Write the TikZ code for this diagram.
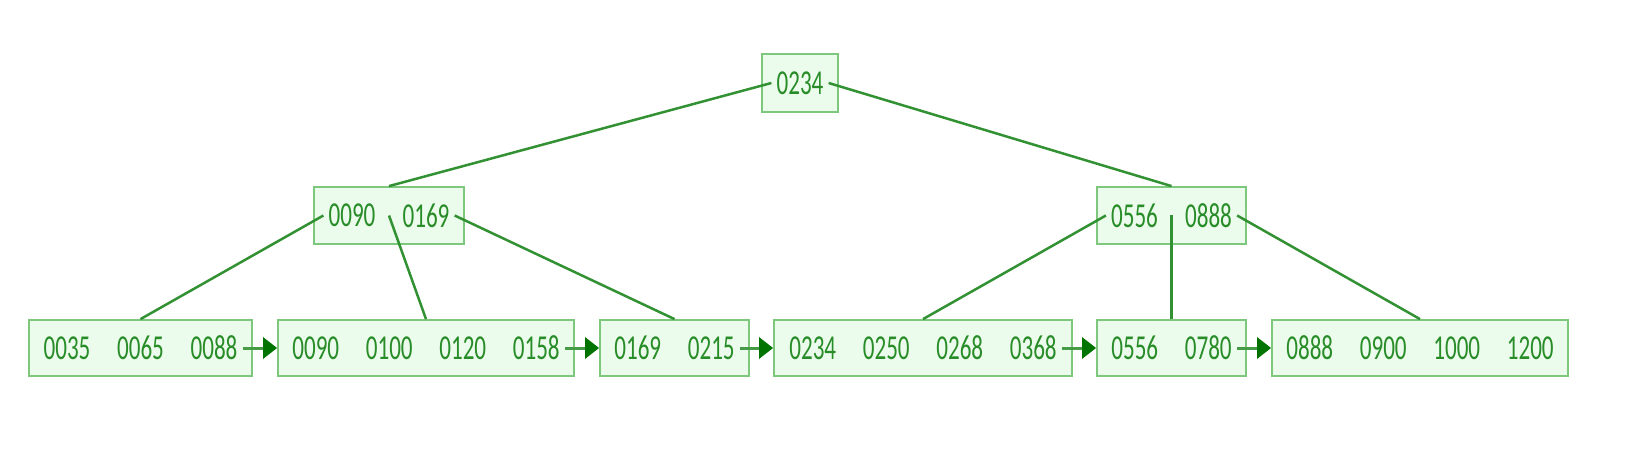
\documentclass[tikz,border=0pt]{standalone}
\usepackage{fontspec}
\usetikzlibrary{arrows.meta}
\newfontfamily\keyfont[FakeStretch=0.66]{Carlito}
\definecolor{boxfill}{RGB}{236,252,236}
\definecolor{boxdraw}{RGB}{125,200,125}
\definecolor{keytext}{RGB}{40,140,40}
\definecolor{edgecol}{RGB}{50,145,50}
\definecolor{chaincol}{RGB}{70,155,70}
\definecolor{tipcol}{RGB}{0,115,0}
\tikzset{
  box/.style={draw=boxdraw, fill=boxfill, line width=1.8pt, rectangle, inner sep=0pt},
  key/.style={text=keytext, font=\keyfont\fontsize{35}{35}\selectfont, inner xsep=5pt, inner ysep=0pt},
  edge/.style={draw=edgecol, line width=2.5pt},
  chain/.style={draw=chaincol, line width=3pt, -{Triangle[length=14pt,width=21pt,color=tipcol]}}
}
\begin{document}
\begin{tikzpicture}[x=1pt,y=-1pt]
\useasboundingbox (0,0) rectangle (1643,457);
% root
\node[box, minimum width=76pt, minimum height=58pt] (root) at (800,83) {};
\node[key] (r1) at (root.center) {0234};
% level 2
\node[box, minimum width=150pt, minimum height=57pt] (ia) at (389,215.5) {};
\node[key] (ia1) at (352,215.5) {0090};
\node[key] (ia2) at (426,215.5) {0169};
\node[box, minimum width=149pt, minimum height=57pt] (ib) at (1171.5,215.5) {};
\node[key] (ib1) at (1134.5,215.5) {0556};
\node[key] (ib2) at (1208.5,215.5) {0888};
% leaves
\node[box, minimum width=223pt, minimum height=56pt] (lf1) at (140.5,348) {};
\node[key] (lf1a) at (67,348) {0035};
\node[key] (lf1b) at (140.5,348) {0065};
\node[key] (lf1c) at (214,348) {0088};
\node[box, minimum width=296pt, minimum height=56pt] (lf2) at (426,348) {};
\node[key] (lf2a) at (315.75,348) {0090};
\node[key] (lf2b) at (389.25,348) {0100};
\node[key] (lf2c) at (462.75,348) {0120};
\node[key] (lf2d) at (536.25,348) {0158};
\node[box, minimum width=149pt, minimum height=56pt] (lf3) at (674.5,348) {};
\node[key] (lf3a) at (637.75,348) {0169};
\node[key] (lf3b) at (711.25,348) {0215};
\node[box, minimum width=298pt, minimum height=56pt] (lf4) at (923,348) {};
\node[key] (lf4a) at (812.75,348) {0234};
\node[key] (lf4b) at (886.25,348) {0250};
\node[key] (lf4c) at (959.75,348) {0268};
\node[key] (lf4d) at (1033.25,348) {0368};
\node[box, minimum width=149pt, minimum height=56pt] (lf5) at (1171.5,348) {};
\node[key] (lf5a) at (1134.75,348) {0556};
\node[key] (lf5b) at (1208.25,348) {0780};
\node[box, minimum width=296pt, minimum height=56pt] (lf6) at (1420,348) {};
\node[key] (lf6a) at (1309.75,348) {0888};
\node[key] (lf6b) at (1383.25,348) {0900};
\node[key] (lf6c) at (1456.75,348) {1000};
\node[key] (lf6d) at (1530.25,348) {1200};
% tree edges
\draw[edge] (r1.west) -- (ia.north);
\draw[edge] (r1.east) -- (ib.north);
\draw[edge] (ia1.west) -- (lf1.north);
\draw[edge] (ia.center) -- (lf2.north);
\draw[edge] (ia2.east) -- (lf3.north);
\draw[edge] (ib1.west) -- (lf4.north);
\draw[edge] (ib.center) -- (lf5.north);
\draw[edge] (ib2.east) -- (lf6.north);
% leaf chain
\draw[chain] (lf1c.east) -- (lf2.west);
\draw[chain] (lf2d.east) -- (lf3.west);
\draw[chain] (lf3b.east) -- (lf4.west);
\draw[chain] (lf4d.east) -- (lf5.west);
\draw[chain] (lf5b.east) -- (lf6.west);
\end{tikzpicture}
\end{document}
